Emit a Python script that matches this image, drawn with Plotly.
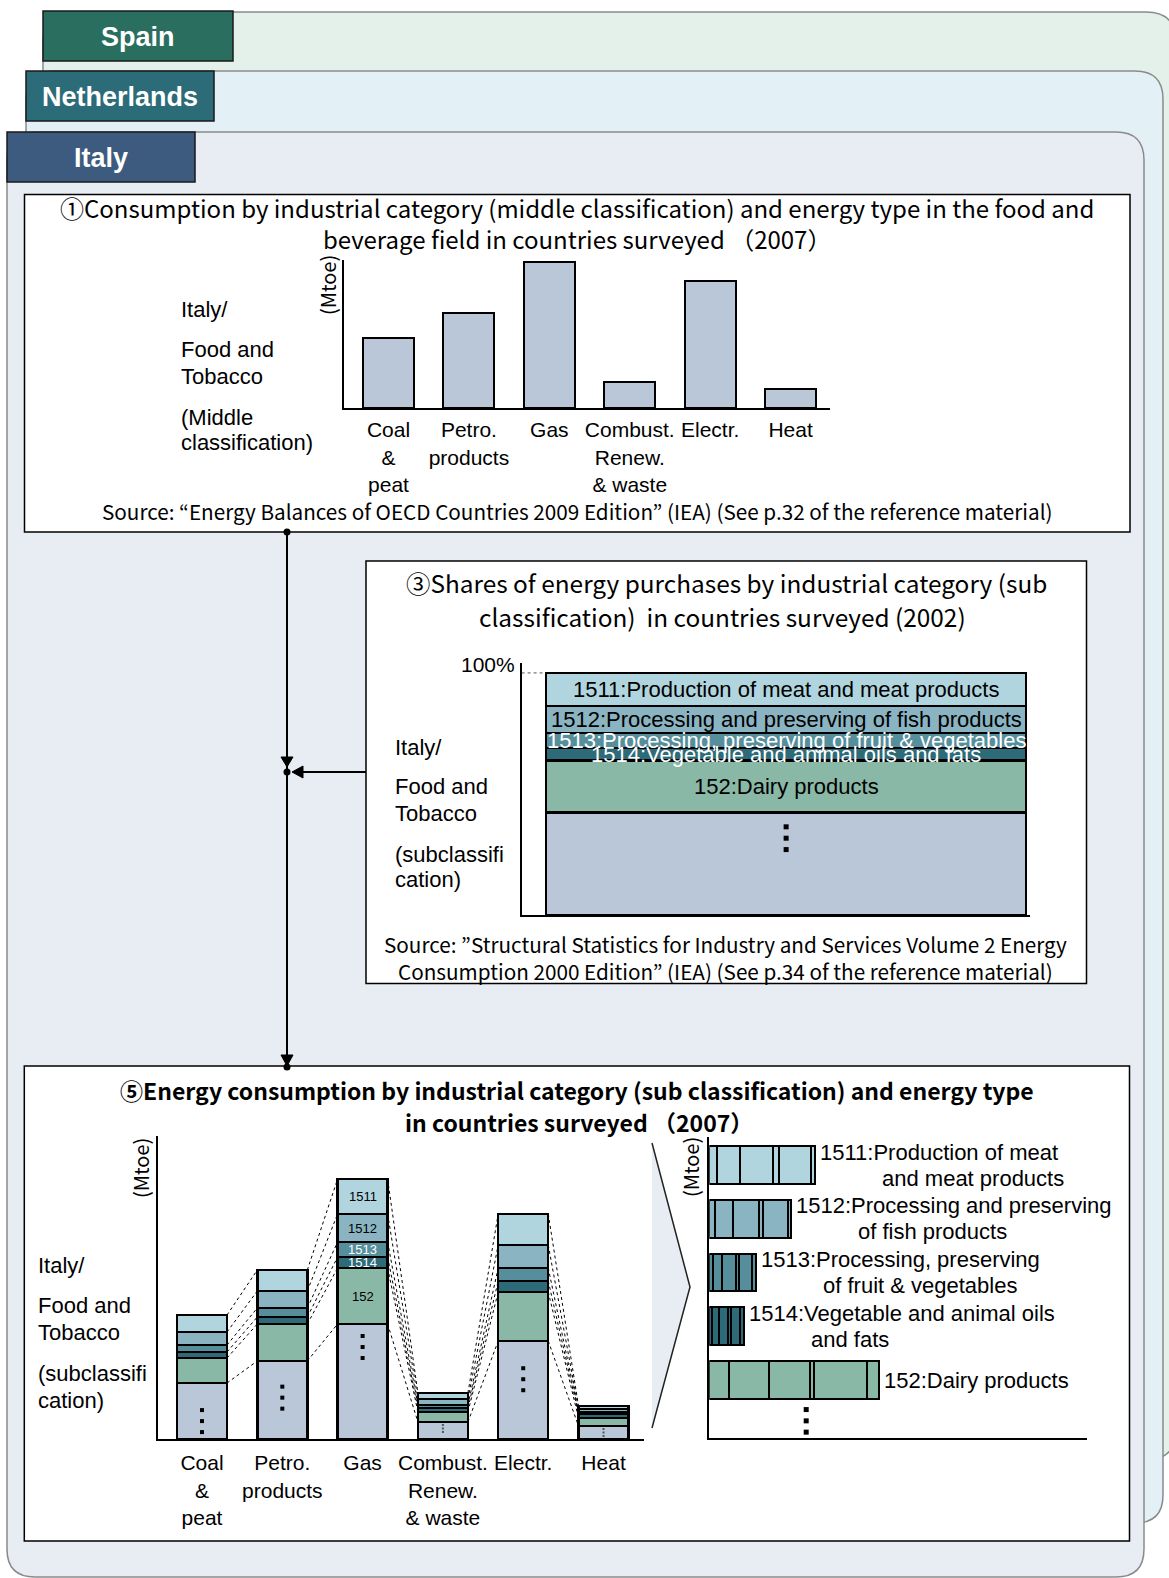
import plotly.graph_objects as go

W, H = 1169, 1578

# ---------------- data ----------------
energy_types = ["Coal & peat", "Petro. products", "Gas", "Combust. Renew. & waste", "Electr.", "Heat"]
energy_tick_labels = ["Coal<br>&<br>peat", "Petro.<br>products", "Gas",
                      "Combust.<br>Renew.<br>& waste", "Electr.", "Heat"]

# (1) middle classification, 2007 (Mtoe, schematic)
middle_totals = [1.24, 1.69, 2.59, 0.46, 2.26, 0.34]

# (3) shares of energy purchases, 2002 (%)
subcat_codes = ["1511", "1512", "1513", "1514", "152", "other"]
subcat_names = ["1511:Production of meat and meat products",
                "1512:Processing and preserving of fish products",
                "1513:Processing, preserving of fruit & vegetables",
                "1514:Vegetable and animal oils and fats",
                "152:Dairy products", ""]
shares_2002 = [13.7, 11.2, 6.2, 5.0, 21.6, 42.3]

# (5) sub classification by energy type, 2007 (Mtoe, schematic)
sub_1511 = [0.17, 0.21, 0.35, 0.06, 0.31, 0.03]
sub_1512 = [0.13, 0.17, 0.28, 0.06, 0.23, 0.03]
sub_1513 = [0.07, 0.09, 0.15, 0.03, 0.13, 0.02]
sub_1514 = [0.06, 0.07, 0.11, 0.04, 0.11, 0.04]
sub_152 = [0.25, 0.37, 0.56, 0.10, 0.49, 0.08]
sub_other = [0.56, 0.78, 1.15, 0.17, 0.98, 0.13]

# (5) right: each sub category split by energy type (coal..heat)
row_labels_1 = ["1511:Production of meat", "1512:Processing and preserving",
                "1513:Processing, preserving", "1514:Vegetable and animal oils",
                "152:Dairy products"]
row_labels_2 = ["and meat products", "of fish products", "of fruit & vegetables", "and fats", ""]
row_1511 = [0.08, 0.23, 0.33, 0.06, 0.32, 0.04]
row_1512 = [0.06, 0.18, 0.26, 0.04, 0.25, 0.03]
row_1513 = [0.04, 0.09, 0.14, 0.03, 0.13, 0.04]
row_1514 = [0.03, 0.07, 0.09, 0.03, 0.09, 0.04]
row_152 = [0.20, 0.40, 0.41, 0.04, 0.53, 0.12]

# ---------------- style ----------------
COL = {"1511": "#b0d5de", "1512": "#8bb4c2", "1513": "#568e9c", "1514": "#2e6b79",
       "152": "#89b8a6", "other": "#b9c7d9"}
GOTH = "Noto Sans CJK JP"
ARIAL = "Liberation Sans, Arial, sans-serif"
dot_pos_frac = [0.32, 0.53, 0.80, 0.62, 0.61, 0.5]


def X(p):
    return p / W


def Y(p):
    return 1 - p / H


fig = go.Figure()

# ---------- panel 1 : middle classification ----------
bw1 = 0.634
fig.add_trace(go.Bar(x=list(range(6)), y=middle_totals, width=bw1, xaxis="x", yaxis="y",
                     marker=dict(color=COL["other"], line=dict(color="black", width=2)),
                     hoverinfo="skip"))

# ---------- panel 3 : shares ----------
stack_order = [5, 4, 3, 2, 1, 0]  # bottom -> top
for k in stack_order:
    fig.add_trace(go.Bar(x=[0], y=[shares_2002[k]], width=1, xaxis="x2", yaxis="y2",
                         marker=dict(color=COL[subcat_codes[k]], line=dict(color="black", width=2.5)),
                         hoverinfo="skip"))

# ---------- panel 5 left : stacked by sub category ----------
sub_lists = [sub_1511, sub_1512, sub_1513, sub_1514, sub_152, sub_other]
bw5 = 0.623
for k in stack_order:
    fig.add_trace(go.Bar(x=list(range(6)), y=sub_lists[k], width=bw5, xaxis="x3", yaxis="y3",
                         marker=dict(color=COL[subcat_codes[k]], line=dict(color="black", width=2.5)),
                         hoverinfo="skip"))

# cumulative levels (bottom -> top)
levels = []
acc = [0.0] * 6
for k in stack_order:
    acc = [a + v for a, v in zip(acc, sub_lists[k])]
    levels.append(acc[:])

cx, cy = [], []
for lev in levels:
    for i in range(5):
        cx += [i + bw5 / 2, i + 1 - bw5 / 2, None]
        cy += [lev[i], lev[i + 1], None]
fig.add_trace(go.Scatter(x=cx, y=cy, mode="lines", xaxis="x3", yaxis="y3",
                         line=dict(color="black", width=1, dash="dot"), hoverinfo="skip"))

# vertical dots in "other" segments
for i in range(6):
    yc = sub_other[i] * dot_pos_frac[i]
    big = sub_other[i] > 0.3
    d = 0.11 if big else 0.035
    fig.add_trace(go.Scatter(x=[i, i, i], y=[yc - d, yc, yc + d], mode="markers",
                             xaxis="x3", yaxis="y3", hoverinfo="skip",
                             marker=dict(symbol="square", size=4 if big else 2,
                                         color="black" if big else "#555")))

# panel 3 dots
yc3 = shares_2002[5] * 0.75
fig.add_trace(go.Scatter(x=[0, 0, 0], y=[yc3 - 4.7, yc3, yc3 + 4.7], mode="markers",
                         xaxis="x2", yaxis="y2", hoverinfo="skip",
                         marker=dict(symbol="square", size=5, color="black")))

# ---------- panel 5 right : horizontal stacked ----------
rows = [row_1511, row_1512, row_1513, row_1514, row_152]
row_cols = [COL[c] for c in subcat_codes[:5]]
for j in range(6):
    fig.add_trace(go.Bar(y=list(range(5)), x=[r[j] for r in rows], orientation="h", width=0.70,
                         xaxis="x4", yaxis="y4", hoverinfo="skip",
                         marker=dict(color=row_cols, line=dict(color="black", width=2))))
row_tot = [sum(r) for r in rows]
fig.add_trace(go.Scatter(x=[row_tot[4] * 0.57] * 3, y=[4.55, 4.76, 4.97], mode="markers",
                         xaxis="x4", yaxis="y4", hoverinfo="skip",
                         marker=dict(symbol="square", size=5, color="black")))

# ---------------- axes ----------------
base = dict(showgrid=False, zeroline=False, showline=True, linecolor="black", linewidth=2,
            ticks="", fixedrange=True)
tickfont = dict(family=ARIAL, size=21, color="black")
fig.update_layout(
    xaxis=dict(base, domain=[X(344), X(830)], range=[-0.553, 5.49], anchor="y",
               tickvals=list(range(6)), ticktext=energy_tick_labels, tickangle=0, tickfont=tickfont,
               ticklabelstandoff=2),
    yaxis=dict(base, domain=[Y(408), Y(260)], range=[0, 2.63], anchor="x", showticklabels=False),
    xaxis2=dict(base, domain=[X(521.6), X(1030)], range=[-0.551, 0.508], anchor="y2",
                showticklabels=False),
    yaxis2=dict(base, domain=[Y(915), Y(663)], range=[0, 104.1], anchor="x2", showticklabels=False),
    xaxis3=dict(base, domain=[X(158), X(644)], range=[-0.548, 5.504], anchor="y3",
                tickvals=list(range(6)), ticktext=energy_tick_labels, tickangle=0, tickfont=tickfont,
                ticklabelstandoff=4),
    yaxis3=dict(base, domain=[Y(1439), Y(1136)], range=[0, 3.03], anchor="x3", showticklabels=False),
    xaxis4=dict(base, domain=[X(709.3), X(1087)], range=[0, 3.777], anchor="y4", showticklabels=False),
    yaxis4=dict(base, domain=[Y(1438), Y(1137)], range=[5.079, -0.521], anchor="x4",
                showticklabels=False),
)

# ---------------- shapes ----------------
shapes = []


def rrect(x0, y0, x1, y1, r, fill, line="#8a8a8a", lw=1.5):
    rx, ry = r / W, r / H
    a, b = X(x0), X(x1)
    t, u = Y(y0), Y(y1)
    p = (f"M {a+rx},{t} L {b-rx},{t} Q {b},{t} {b},{t-ry} L {b},{u+ry} Q {b},{u} {b-rx},{u} "
         f"L {a+rx},{u} Q {a},{u} {a},{u+ry} L {a},{t-ry} Q {a},{t} {a+rx},{t} Z")
    shapes.append(dict(type="path", path=p, xref="paper", yref="paper", fillcolor=fill,
                       line=dict(color=line, width=lw), layer="below"))


def rect(x0, y0, x1, y1, fill, line="black", lw=1.5):
    shapes.append(dict(type="rect", x0=X(x0), x1=X(x1), y0=Y(y1), y1=Y(y0), xref="paper",
                       yref="paper", fillcolor=fill, line=dict(color=line, width=lw), layer="below"))


def seg(x0, y0, x1, y1, lw=2, color="black", dash="solid"):
    shapes.append(dict(type="line", x0=X(x0), x1=X(x1), y0=Y(y0), y1=Y(y1), xref="paper",
                       yref="paper", line=dict(color=color, width=lw, dash=dash), layer="below"))


def tri(pts, color="black"):
    p = "M " + " L ".join(f"{X(a)},{Y(b)}" for a, b in pts) + " Z"
    shapes.append(dict(type="path", path=p, xref="paper", yref="paper", fillcolor=color,
                       line=dict(color=color, width=1), layer="below"))


def dot(x, y, r=3.5):
    shapes.append(dict(type="circle", x0=X(x - r), x1=X(x + r), y0=Y(y + r), y1=Y(y - r),
                       xref="paper", yref="paper", fillcolor="black", line=dict(width=0),
                       layer="below"))


rrect(43, 12, 1176, 1460, 30, "#e3f1ea")
rect(43, 11, 233, 61, "#2a6e5f", "#1a1a1a")
rrect(26, 71, 1163, 1523, 28, "#e3f0f5")
rect(26, 71, 214, 121, "#2c6b78", "#1a1a1a")
rrect(7, 132, 1144, 1577, 28, "#e8ecf3")
rect(7, 132, 195, 182, "#3d5b7e", "#1a1a1a")

rect(24.5, 194.5, 1130, 532, "white")
rect(366, 561, 1086.5, 983.5, "white")
rect(24.3, 1066, 1129.5, 1541, "white")

# connectors
seg(287, 532, 287, 1062)
seg(366, 772, 296, 772)
tri([(281, 757), (293, 757), (287, 767)])
tri([(303, 766), (303, 778), (292, 772)])
tri([(281, 1055), (293, 1055), (287, 1066)])
dot(287, 532)
dot(287, 772)
dot(287, 1067)

# chevron
shapes.append(dict(type="path", xref="paper", yref="paper", layer="below",
                   path=f"M {X(652)},{Y(1143)} L {X(690)},{Y(1287)} L {X(652)},{Y(1428)} Z",
                   fillcolor="#e8ecf3", line=dict(width=0)))
shapes.append(dict(type="path", xref="paper", yref="paper", layer="below",
                   path=f"M {X(652)},{Y(1143)} L {X(690)},{Y(1287)} L {X(652)},{Y(1428)}",
                   fillcolor="rgba(0,0,0,0)", line=dict(color="#222", width=1.5)))

# 100% dotted guide in panel 3
shapes.append(dict(type="line", xref="x2", yref="y2", x0=-0.551, x1=-0.5, y0=100, y1=100,
                   line=dict(color="#555", width=1, dash="dot")))

# ---------------- annotations ----------------
ann = []


def A(text, x, y, size=22, font=ARIAL, color="black", xanchor="center", yanchor="middle", **kw):
    ann.append(dict(text=text, x=X(x), y=Y(y), xref="paper", yref="paper", showarrow=False,
                    font=dict(family=font, size=size, color=color), xanchor=xanchor,
                    yanchor=yanchor, **kw))


# tabs
A("<b>Spain</b>", 138, 37, 27, color="white")
A("<b>Netherlands</b>", 120, 97, 27, color="white")
A("<b>Italy</b>", 101, 158, 27, color="white")

# panel 1
A("①Consumption by industrial category (middle classification) and energy type in the food and"
  "<br>beverage field in countries surveyed （2007）", 577, 223, 24, GOTH)
A("(Mtoe)", 328, 285, 20, GOTH, textangle=-90)
for t, yy in zip(["Italy/", "Food and", "Tobacco", "(Middle", "classification)"],
                 [310, 349, 376, 417, 443]):
    A(t, 179, yy, 22, xanchor="left")
A("Source: “Energy Balances of OECD Countries 2009 Edition” (IEA) (See p.32 of the reference material)",
  577, 511, 20.7, GOTH)

# panel 3
A("③Shares of energy purchases by industrial category (sub", 726, 583, 24.4, GOTH)
A("classification)  in countries surveyed (2002)", 722, 616, 24.4, GOTH)
A("100%", 517, 665, 21, xanchor="right")
for t, yy in zip(["Italy/", "Food and", "Tobacco", "(subclassifi", "cation)"],
                 [747, 787, 813, 854, 880]):
    A(t, 393, yy, 22, xanchor="left")
A("Source: ”Structural Statistics for Industry and Services Volume 2 Energy", 725, 944, 20.7, GOTH)
A("Consumption 2000 Edition” (IEA) (See p.34 of the reference material)", 725, 971, 20.7, GOTH)

cum = 0.0
for k in stack_order:
    v = shares_2002[k]
    if subcat_names[k]:
        ann.append(dict(text=subcat_names[k], x=0, y=cum + v / 2, xref="x2", yref="y2",
                        showarrow=False, yanchor="middle",
                        font=dict(family=ARIAL, size=22,
                                  color="white" if subcat_codes[k] in ("1513", "1514") else "black")))
    cum += v

# panel 5
A("<b>⑤Energy consumption by industrial category (sub classification) and energy type</b>",
  577, 1090, 23, GOTH)
A("<b>in countries surveyed （2007）</b>", 579, 1122, 23, GOTH)
for t, yy in zip(["Italy/", "Food and", "Tobacco", "(subclassifi", "cation)"],
                 [1265, 1305, 1332, 1373, 1400]):
    A(t, 36, yy, 22, xanchor="left")
A("(Mtoe)", 140, 1168, 20, GOTH, textangle=-90)
A("(Mtoe)", 690, 1167, 20, GOTH, textangle=-90)

# labels inside the Gas bar
prev = 0.0
for idx, k in enumerate(stack_order):
    v = sub_lists[k][2]
    if subcat_codes[k] != "other":
        ann.append(dict(text=subcat_codes[k], x=2, y=prev + v / 2, xref="x3", yref="y3",
                        showarrow=False, yanchor="middle",
                        font=dict(family=ARIAL, size=13,
                                  color="white" if subcat_codes[k] in ("1513", "1514") else "black")))
    prev += v

# labels of the horizontal bars
for r in range(5):
    two = bool(row_labels_2[r])
    ann.append(dict(text=row_labels_1[r], x=row_tot[r], y=r, xref="x4", yref="y4",
                    showarrow=False, xanchor="left", yanchor="middle", xshift=3,
                    yshift=13 if two else 0, font=dict(family=ARIAL, size=22, color="black")))
    if two:
        ann.append(dict(text=row_labels_2[r], x=row_tot[r], y=r, xref="x4", yref="y4",
                        showarrow=False, xanchor="left", yanchor="middle", xshift=65,
                        yshift=-13, font=dict(family=ARIAL, size=22, color="black")))

fig.update_layout(
    width=W, height=H, autosize=False, margin=dict(l=0, r=0, t=0, b=0),
    paper_bgcolor="white", plot_bgcolor="rgba(0,0,0,0)",
    barmode="stack", showlegend=False, hovermode=False,
    font=dict(family=ARIAL, color="black"),
    shapes=shapes, annotations=ann,
)

fig.write_html("out.html", config={"displayModeBar": False},
               post_script="document.body.style.margin='0';document.body.style.padding='0';")
